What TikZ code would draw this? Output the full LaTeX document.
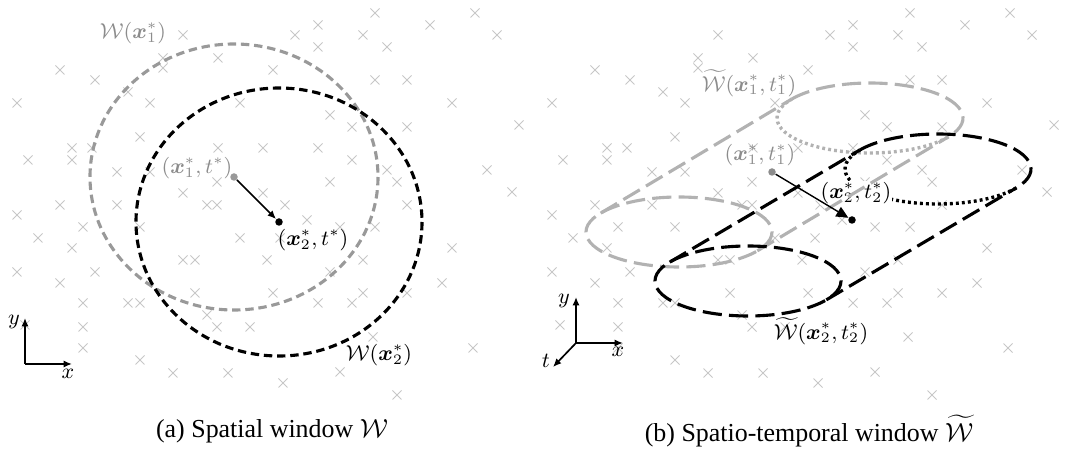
\documentclass[tikz,border=0pt]{standalone}
\usepackage{amsmath,amssymb}
\usepackage{fontspec}
\setmainfont{Liberation Serif}
\usepackage{tikz}
\usetikzlibrary{arrows.meta,calc}

\def\crosslist{375/13,475/13,497/35,183/35,295/35,318/25,363/35,430/25,318/47,387/47,
  163/58,163/68,60/70,95/80,218/58,273/70,375/80,407/80,
  17/103,128/92,150/103,240/103,452/103,330/115,352/127,407/127,
  140/137,72/148,92/148,218/148,263/148,318/148,
  28/160,72/160,352/160,117/172,150/172,330/182,387/170,397/182,487/170,
  183/193,217/182,263/193,60/205,117/205,207/205,217/205,285/205,407/205,
  17/215,83/227,140/227,307/220,340/227,375/227,38/238,240/238,280/238,
  72/248,183/260,195/260,267/260,363/260,452/248,17/272,95/272,60/283,
  330/272,442/283,83/303,128/303,140/303,195/293,273/293,363/293,407/293,
  318/303,352/303,207/315,217/327,250/327,83/327,25/325,83/348,373/337,
  140/360,173/373,228/373,340/372,473/348,283/383,397/395,519/125,512/192}

\begin{document}
\begin{tikzpicture}[x=0.4167pt, y=-0.4167pt,
  xmark/.style={draw=black!22, line width=0.4pt},
  lbl/.style={font=\fontsize{8.8}{10}\selectfont, inner sep=1pt},
  dimlbl/.style={lbl, text=black!45},
  captext/.style={font=\fontsize{10.8}{12}\selectfont, inner sep=0pt},
  circ/.style={line width=1.3pt, dash pattern=on 3.5pt off 2pt},
  tube/.style={line width=1.3pt, dash pattern=on 8pt off 3pt},
  hidden/.style={line width=1.4pt, dash pattern=on 1.2pt off 1.3pt},
  axis/.style={-{Latex[length=3.5pt,width=3pt]}, line width=0.7pt},
  move/.style={-{Latex[length=3.5pt,width=3pt]}, line width=0.6pt},
  dot/.style={circle, inner sep=0pt, minimum size=7.5*0.4167pt}]
  \useasboundingbox (0,0) rectangle (1068,455);

  % crosses, same pattern in both panels
  \foreach \a/\b in \crosslist {
    \draw[xmark] (\a-4.5,\b-4.5) -- (\a+4.5,\b+4.5) (\a-4.5,\b+4.5) -- (\a+4.5,\b-4.5);
    \draw[xmark] (\a+530.5,\b-4.5) -- (\a+539.5,\b+4.5) (\a+530.5,\b+4.5) -- (\a+539.5,\b-4.5);
  }

  % (a) spatial window
  \coordinate (c1) at (234,177);
  \coordinate (c2) at (279,222);
  \draw[circ, black!40] (c1) ellipse[x radius=144, y radius=133];
  \draw[circ, black] (c2) ellipse[x radius=143, y radius=134];
  \node[dot, fill=black!40] (p1) at (c1) {};
  \node[dot, fill=black] (p2) at (c2) {};
  \draw[move] (p1) -- (p2);
  \node[dimlbl] (w1) at (133,33) {$\mathcal{W}(\boldsymbol{x}_1^*)$};
  \node[dimlbl] (l1) at (197,168) {$(\boldsymbol{x}_1^*,t^*)$};
  \node[lbl] (l2) at (313,240) {$(\boldsymbol{x}_2^*,t^*)$};
  \node[lbl] (w2) at (379,355) {$\mathcal{W}(\boldsymbol{x}_2^*)$};

  \coordinate (o) at (25,364);
  \coordinate (ax) at (72,364);
  \coordinate (ay) at (25,318);
  \draw[axis] (o) -- (ax);
  \draw[axis] (o) -- (ay);
  \node[lbl] at (68,374) {$x$};
  \node[lbl] at (14,322) {$y$};

  % (b) spatio-temporal window
  \coordinate (f1) at (679,232);
  \coordinate (b1) at (870,118);
  \coordinate (f2) at (748,281);
  \coordinate (b2) at (938,169);
  \foreach \b/\col in {b1/black!30, b2/black}
    \draw[hidden, \col] ($(\b)+(32.6:93 and 35)$) arc[start angle=32.6, end angle=212.6, x radius=93, y radius=35];
  \node[lbl, fill=white, inner sep=0.5pt] (l4) at (856,193) {$(\boldsymbol{x}_2^*,t_2^*)$};
  \foreach \f/\b/\col in {f1/b1/black!30, f2/b2/black} {
    \draw[tube, \col] ($(\b)+(212.6:93 and 35)$) arc[start angle=212.6, end angle=392.6, x radius=93, y radius=35];
    \draw[tube, \col] ($(\f)+(212.6:93 and 35)$) -- ($(\b)+(212.6:93 and 35)$);
    \draw[tube, \col] ($(\f)+(32.6:93 and 35)$) -- ($(\b)+(32.6:93 and 35)$);
    \draw[tube, \col] (\f) ellipse[x radius=93, y radius=35];
  }
  \node[dot, fill=black!45] (q1) at (772,172) {};
  \node[dot, fill=black] (q2) at (852,220) {};
  \draw[-{Triangle[length=5pt,width=4.5pt]}, line width=0.6pt] (q1) -- (q2);
  \node[dimlbl] (w3) at (749,83) {$\widetilde{\mathcal{W}}(\boldsymbol{x}_1^*,t_1^*)$};
  \node[dimlbl] (l3) at (760,155) {$(\boldsymbol{x}_1^*,t_1^*)$};
  \node[lbl] (w4) at (821,331) {$\widetilde{\mathcal{W}}(\boldsymbol{x}_2^*,t_2^*)$};

  \coordinate (o2) at (576,343);
  \coordinate (bx) at (623,343);
  \coordinate (by) at (576,297);
  \coordinate (bt) at (553,367);
  \draw[axis] (o2) -- (bx);
  \draw[axis] (o2) -- (by);
  \draw[axis] (o2) -- (bt);
  \node[lbl] at (618,352) {$x$};
  \node[lbl] at (564,301) {$y$};
  \node[lbl] at (546,361) {$t$};

  % captions
  \node[captext] (ca) at (272,431) {(a) Spatial window $\mathcal{W}$};
  \node[captext] (cb) at (809,431) {(b) Spatio-temporal window $\widetilde{\mathcal{W}}$};
\end{tikzpicture}
\end{document}
